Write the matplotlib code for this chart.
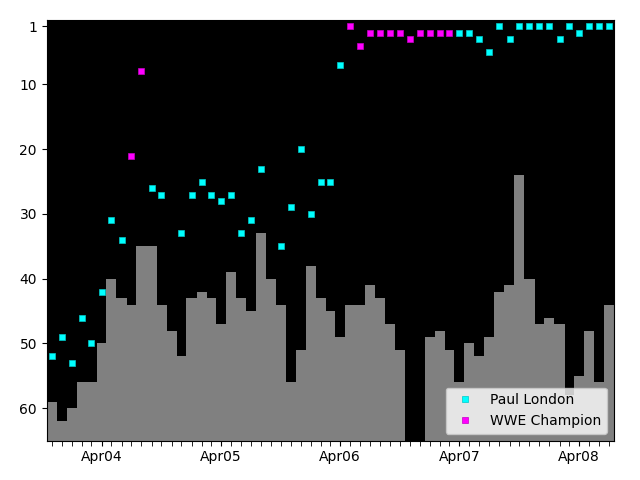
import numpy as np
import pandas as pd
import matplotlib
matplotlib.use("Agg")
import matplotlib.pyplot as plt
import matplotlib.dates as mdates

nan = np.nan

# one value per month, Nov 2003 .. Jul 2008
months = pd.date_range("2003-11-01", "2008-07-01", freq="MS")

# grey background bars (rank from the bottom)
bar_rank = [59, 62, 60, 56, 56, 50, 40, 43, 44, 35,
            35, 44, 48, 52, 43, 42, 43, 47, 39, 43,
            45, 33, 40, 44, 56, 51, 38, 43, 45, 49,
            44, 44, 41, 43, 47, 51, nan, nan, 49, 48,
            51, 56, 50, 52, 49, 42, 41, 24, 40, 47,
            46, 47, 58, 55, 48, 56, 44]

paul_london = [52, 49, 53, 46, 50, 42, 31, 34, nan, nan,
               26, 27, nan, 33, 27, 25, 27, 28, 27, 33,
               31, 23, nan, 35, 29, 20, 30, 25, 25, 7,
               nan, nan, nan, nan, nan, nan, nan, nan, nan, nan,
               nan, 2, 2, 3, 5, 1, 3, 1, 1, 1,
               1, 3, 1, 2, 1, 1, 1]

wwe_champion = [nan, nan, nan, nan, nan, nan, nan, nan, 21, 8,
                nan, nan, nan, nan, nan, nan, nan, nan, nan, nan,
                nan, nan, nan, nan, nan, nan, nan, nan, nan, nan,
                1, 4, 2, 2, 2, 2, 3, 2, 2, 2,
                2, nan, nan, nan, nan, nan, nan, nan, nan, nan,
                nan, nan, nan, nan, nan, nan, nan]

y_bottom = 65

fig, ax = plt.subplots(figsize=(6.4, 4.8), dpi=100)
fig.subplots_adjust(left=0.073, right=0.959, top=0.959, bottom=0.082)
ax.set_facecolor("black")

heights = [y_bottom - v if not np.isnan(v) else 0 for v in bar_rank]
ax.bar(months, heights, bottom=bar_rank, width=31, color="gray",
       align="center", linewidth=0)

ax.plot(months, paul_london, "s", color="cyan", ms=5, mec="#00c8c8",
        mew=0.5, label="Paul London")
ax.plot(months, wwe_champion, "s", color="magenta", ms=5, mec="#c800c8",
        mew=0.5, label="WWE Champion")

ax.set_ylim(y_bottom, 0)
ax.set_yticks([1, 10, 20, 30, 40, 50, 60])
ax.set_xlim(pd.Timestamp("2003-10-16"), pd.Timestamp("2008-07-16"))

ax.xaxis.set_major_locator(mdates.MonthLocator(bymonth=4))
ax.xaxis.set_major_formatter(mdates.DateFormatter("%b%y"))
ax.xaxis.set_minor_locator(mdates.MonthLocator())
ax.tick_params(axis="x", which="minor", length=3.5)

ax.legend(loc="lower right", numpoints=1, markerscale=0.8)

fig.savefig("out.png", dpi=100)
